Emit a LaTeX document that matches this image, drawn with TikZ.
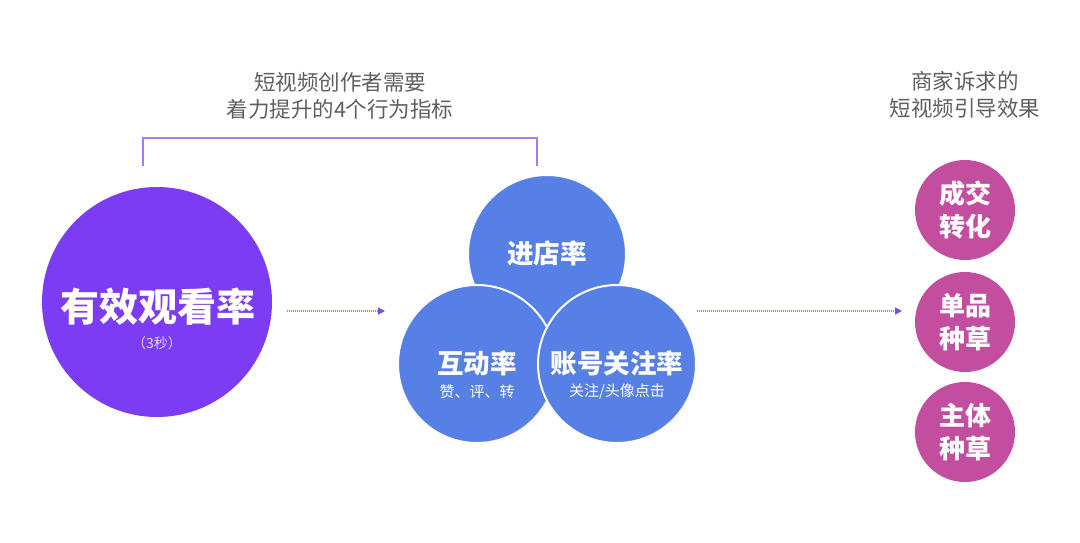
\documentclass[tikz,border=0pt]{standalone}
\usepackage{fontspec}
\newfontfamily\cjk{Noto Sans CJK SC}
\usetikzlibrary{arrows.meta}
\definecolor{watchpurple}{RGB}{124,60,244}
\definecolor{rateblue}{RGB}{86,128,230}
\definecolor{goalpink}{RGB}{195,78,160}
\definecolor{linepurple}{RGB}{170,120,250}
\definecolor{tipblue}{RGB}{105,80,240}
\definecolor{capgray}{RGB}{95,95,95}
\definecolor{paleviolet}{RGB}{225,215,255}

\begin{document}
\begin{tikzpicture}[x=1pt, y=-1pt,
  big/.style={circle, fill=watchpurple, minimum size=230pt, inner sep=0pt},
  r/.style={circle, fill=rateblue, draw=white, line width=2pt, minimum size=158pt, inner sep=0pt},
  g/.style={circle, fill=goalpink, minimum size=100pt, inner sep=0pt, text=white, align=center, font=\cjk\bfseries\fontsize{26}{33}\selectfont},
  note/.style={text=capgray, align=center, font=\cjk\fontsize{21.5}{27}\selectfont},
  lbl/.style={text=white, font=\cjk\bfseries\fontsize{26.5}{28}\selectfont},
  sub/.style={text=white, font=\cjk\fontsize{15}{16}\selectfont},
  e/.style={-{Triangle[length=7pt, width=7pt, color=tipblue]}, draw=linepurple, line width=1.2pt, dash pattern=on 1pt off 1pt}
]
  \useasboundingbox (0,0) rectangle (1080,542);
  \node[big] (watch) at (157,302) {};
  \node[text=white, font=\cjk\bfseries\fontsize{39}{40}\selectfont] (watcht) at (158,307) {有效观看率};
  \node[text=paleviolet, font=\cjk\fontsize{14}{15}\selectfont] (watchs) at (157,343) {（3秒）};

  \node[r] (store) at (547,254) {};
  \node[r] (inter) at (477,364) {};
  \node[r] (follow) at (617,364) {};
  \node[lbl] (storet) at (547,253) {进店率};
  \node[lbl] (intert) at (477,363) {互动率};
  \node[sub] (inters) at (477,392) {赞、评、转};
  \node[lbl] (followt) at (617,363) {账号关注率};
  \node[sub] (follows) at (617,392) {关注/头像点击};

  \node[g] (deal) at (965,210) {成交\\转化};
  \node[g] (item) at (965,322) {单品\\种草};
  \node[g] (brand) at (965,432) {主体\\种草};

  \node[note] (notel) at (340,96) {短视频创作者需要\\着力提升的4个行为指标};
  \node[note] (noter) at (965,95) {商家诉求的\\短视频引导效果};

  \coordinate (b1) at (143,166);
  \coordinate (b2) at (537,138);
  \coordinate (b3) at (537,166);
  \draw[linepurple, line width=1.5pt] (b1) |- (b2) -- (b3);

  \coordinate (a1) at (287,311);
  \coordinate (a2) at (385,311);
  \coordinate (a3) at (697,311);
  \coordinate (a4) at (902,311);
  \draw[e] (a1) -- (a2);
  \draw[e] (a3) -- (a4);
\end{tikzpicture}
\end{document}
